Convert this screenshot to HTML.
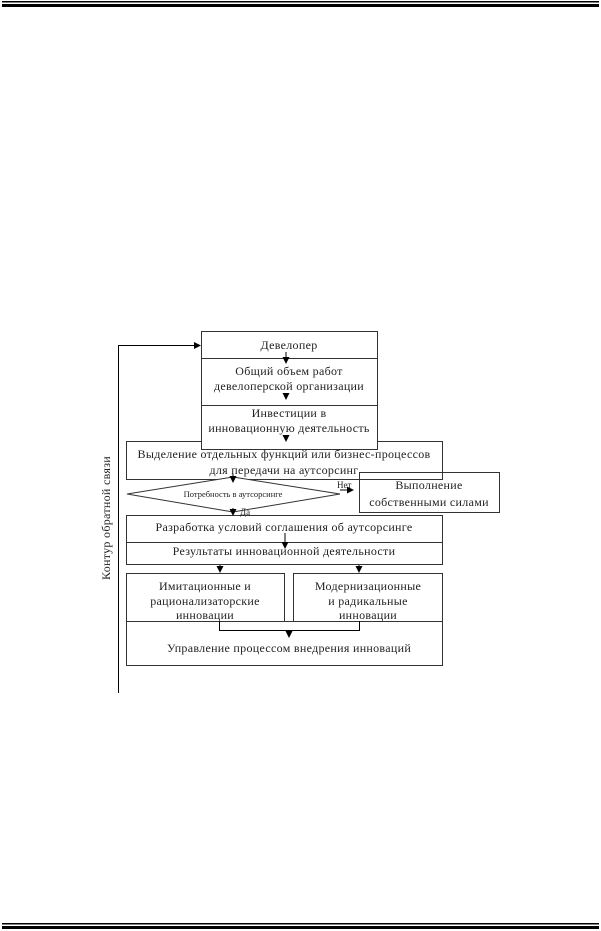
<!DOCTYPE html><html><head><meta charset="utf-8"><style>body{margin:0;background:#fff}svg{display:block}text{font-family:"Liberation Serif",serif;fill:#222}</style></head><body>
<svg width="601" height="931" viewBox="0 0 601 931">
<defs><marker id="a" markerWidth="7" markerHeight="7" refX="6" refY="3.5" orient="auto" markerUnits="userSpaceOnUse"><path d="M0,0L7,3.5L0,7z" fill="#000"/></marker></defs>
<rect x="2" y="1" width="597" height="1.5" fill="#000"/><rect x="2" y="4" width="597" height="3" fill="#000"/>
<rect x="2" y="923" width="597" height="1.5" fill="#000"/><rect x="2" y="926" width="597" height="3" fill="#000"/>
<g fill="none" stroke="#333" stroke-width="1">
<rect x="126.5" y="441.5" width="316" height="38" fill="#fff"/>
<rect x="201.5" y="331.5" width="176" height="118" fill="#fff"/>
<line x1="201.5" y1="358.5" x2="377.5" y2="358.5"/><line x1="201.5" y1="405.5" x2="377.5" y2="405.5"/>
<polygon points="127,494 233,477 340,494 233,512" fill="#fff"/>
<rect x="359.5" y="472.5" width="140" height="40"/>
<rect x="126.5" y="515.5" width="316" height="49"/><line x1="126.5" y1="542.5" x2="442.5" y2="542.5"/>
<rect x="126.5" y="573.5" width="158" height="48"/><rect x="293.5" y="573.5" width="149" height="48"/>
<rect x="126.5" y="621.5" width="316" height="44"/>
</g>
<g stroke="#000" stroke-width="1" fill="none">
<polyline points="118.5,693 118.5,345.5 200,345.5" marker-end="url(#a)"/>
<line x1="286" y1="352" x2="286" y2="363" marker-end="url(#a)"/>
<line x1="286" y1="395" x2="286" y2="399" marker-end="url(#a)"/>
<line x1="286" y1="435" x2="286" y2="441" marker-end="url(#a)"/>
<line x1="233" y1="474" x2="233" y2="482" marker-end="url(#a)"/>
<line x1="340" y1="490" x2="353" y2="490" marker-end="url(#a)"/>
<line x1="233" y1="508" x2="233" y2="515" marker-end="url(#a)"/>
<line x1="285" y1="533" x2="285" y2="548" marker-end="url(#a)"/>
<line x1="220" y1="565" x2="220" y2="572" marker-end="url(#a)"/>
<line x1="359" y1="565" x2="359" y2="572" marker-end="url(#a)"/>
<polyline points="219.5,621 219.5,630.5 359.5,630.5 359.5,621"/>
<line x1="289" y1="630" x2="289" y2="637" marker-end="url(#a)"/>
</g>
<g font-size="12" text-anchor="middle" letter-spacing="0.3">
<text x="289" y="349">Девелопер</text>
<text x="289" y="375">Общий объем работ</text>
<text x="289" y="390">девелоперской организации</text>
<text x="289" y="417">Инвестиции в</text>
<text x="289" y="432">инновационную деятельность</text>
<text x="284" y="458">Выделение отдельных функций или бизнес-процессов</text>
<text x="284" y="474">для передачи на аутсорсинг</text>
<text x="233" y="497" font-size="8.5" letter-spacing="0">Потребность в аутсорсинге</text>
<text x="429" y="489">Выполнение</text>
<text x="429" y="506">собственными силами</text>
<text x="284" y="531">Разработка условий соглашения об аутсорсинге</text>
<text x="284" y="555">Результаты инновационной деятельности</text>
<text x="205" y="590">Имитационные и</text>
<text x="205" y="605">рационализаторские</text>
<text x="205" y="619">инновации</text>
<text x="368" y="590">Модернизационные</text>
<text x="368" y="605">и радикальные</text>
<text x="368" y="619">инновации</text>
<text x="289" y="652">Управление процессом внедрения инноваций</text>
<text x="110" y="518" transform="rotate(-90 110 518)">Контур  обратной связи</text>
</g>
<text x="337" y="488" font-size="9">Нет</text>
<text x="240" y="515" font-size="9">Да</text>
</svg></body></html>
